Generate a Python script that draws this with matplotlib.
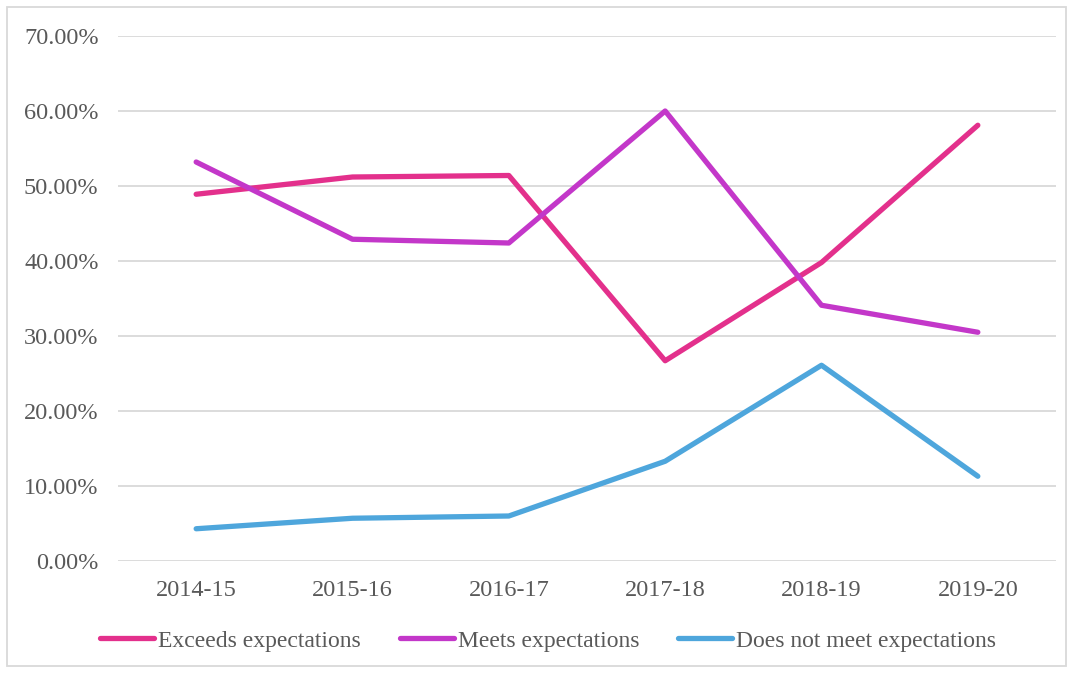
import matplotlib.pyplot as plt
from matplotlib.patches import Rectangle

plt.rcParams['font.family'] = ['Liberation Serif', 'DejaVu Serif']

years = ['2014-15', '2015-16', '2016-17', '2017-18', '2018-19', '2019-20']
exceeds = [48.9, 51.2, 51.4, 26.7, 39.8, 58.1]
meets = [53.2, 42.9, 42.4, 60.0, 34.1, 30.5]
does_not = [4.3, 5.7, 6.0, 13.3, 26.1, 11.3]

text_color = '#595959'
grid_color = '#D9D9D9'

fig = plt.figure(figsize=(10.74, 6.73), dpi=100)
ax = fig.add_axes([118 / 1074, 1 - 561 / 673, (1056 - 118) / 1074, (561 - 36) / 673])

x = range(len(years))
ax.plot(x, exceeds, color='#E3308C', lw=3.8, solid_capstyle='round', label='Exceeds expectations')
ax.plot(x, meets, color='#C337C9', lw=3.8, solid_capstyle='round', label='Meets expectations')
ax.plot(x, does_not, color='#4EA6DC', lw=3.8, solid_capstyle='round', label='Does not meet expectations')

ax.set_xlim(-0.5, len(years) - 0.5)
ax.set_ylim(0, 70)
ax.set_yticks(range(0, 71, 10))
ax.set_yticklabels([f'{v:.2f}%' for v in range(0, 71, 10)])
ax.set_xticks(list(x))
ax.set_xticklabels(years)
ax.tick_params(length=0, labelsize=17.5, colors=text_color)
ax.tick_params(axis='x', pad=14)
ax.tick_params(axis='y', pad=14)
ax.grid(axis='y', color=grid_color, lw=1.3)
ax.set_axisbelow(True)
for s in ax.spines.values():
    s.set_visible(False)

leg = fig.legend(loc='center', bbox_to_anchor=(548 / 1074, 1 - 641 / 673), ncol=3, frameon=False,
                 fontsize=17, handlelength=2.3, handletextpad=0.15, columnspacing=1.65,
                 labelcolor=text_color)

# outer chart border
fig.patches.append(Rectangle((7 / 1074, 7 / 673), 1 - 15 / 1074, 1 - 14 / 673,
                             transform=fig.transFigure, fill=False, ec='#D9D9D9', lw=1.3))

fig.savefig('out.png', dpi=100)
